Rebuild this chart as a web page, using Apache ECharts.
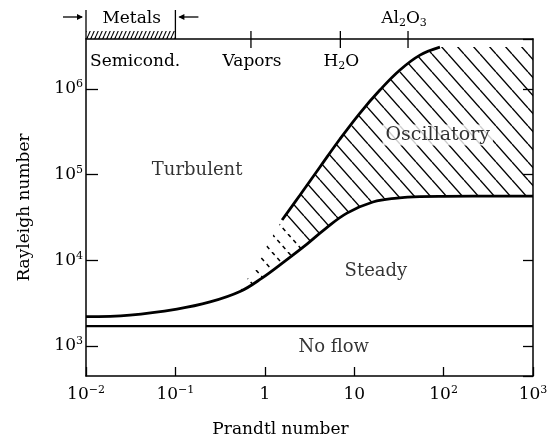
<!DOCTYPE html>
<html><head><meta charset="utf-8">
<script src="https://cdn.jsdelivr.net/npm/echarts@6/dist/echarts.min.js"></script>
<style>html,body{margin:0;padding:0;background:#fff}#c{width:553px;height:448px}</style>
</head><body><div id="c"></div>
<script>
// ---------------- data ----------------
const prMin = 0.01, prMax = 1000;
const raMin = 447, raMax = 3.84e6;
const noFlowRa = 1708;
// lower boundary (turbulent/steady, then steady/oscillatory)
const lowerPr = [0.01, 0.031, 0.104, 0.244, 0.528, 0.93, 1.68, 2.96, 4.71, 8.3, 16.2, 30.1, 54.4, 100, 1000];
const lowerRa = [2200, 2300, 2700, 3270, 4330, 6220, 9820, 15500, 23200, 35600, 48000, 53400, 55600, 56000, 56300];
// upper boundary of oscillatory region (solid)
const upperPr = [1.56, 2.48, 4.14, 6.93, 11.6, 19.4, 32.5, 54.4, 91];
const upperRa = [29600, 57900, 123000, 261000, 525000, 973000, 1.67e6, 2.49e6, 3.09e6];
const oscTopRa = 3.09e6;
// uncertain (dashed) extension
const dashPr = [0.528, 0.96, 1.56];
const dashRa = [4330, 12500, 29600];
const splitPr = 2.78, splitRa = 14800;
// materials along the top edge
const markerNames = ['Vapors', 'H2O', 'Al2O3'];
const markerPr = [0.7, 7, 40];
const metalsRange = [0.01, 0.1];
const metalsName = 'Metals';
const semicondName = 'Semicond.';
// region labels
const regionNames = ['Turbulent', 'Oscillatory', 'Steady', 'No flow'];
const regionPr = [0.175, 86, 17.5, 5.9];
const regionRa = [113000, 290000, 7500, 973];
const xName = 'Prandtl number', yName = 'Rayleigh number';

// ---------------- build ----------------
const FONT = 'DejaVu Serif';
const FS = 17;
const zip = (a, b) => a.map((v, i) => [v, b[i]]);
const lowerData = zip(lowerPr, lowerRa);
const upperData = zip(upperPr, upperRa);
const dashData = zip(dashPr, dashRa);

const solidPoly = [...upperData, [prMax, oscTopRa],
  ...lowerData.filter(d => d[0] > splitPr).reverse(), [splitPr, splitRa]];
const dashPoly = [...dashData, [splitPr, splitRa],
  ...lowerData.filter(d => d[0] > dashPr[0] && d[0] < splitPr).reverse()];

function makeHatch(w, h, dir, dash, lw) {
  const c = document.createElement('canvas'); c.width = w; c.height = h;
  const g = c.getContext('2d');
  g.strokeStyle = '#000'; g.lineWidth = lw;
  if (dash) g.setLineDash(dash);
  for (const off of [-w, 0, w]) {
    g.beginPath();
    if (dir === 'back') { g.moveTo(off, 0); g.lineTo(off + w, h); }
    else { g.moveTo(off, h); g.lineTo(off + w, 0); }
    g.stroke();
  }
  return c;
}
const hatchSolid = makeHatch(16, 18, 'back', null, 1.4);
const hatchDash = makeHatch(16, 18, 'back', [4, 4.03], 1.5);
const hatchMetal = makeHatch(4, 9, 'fwd', null, 1.1);

const rich = {
  sup: { fontSize: 11, fontFamily: FONT, verticalAlign: 'top', color: '#000' },
  sub: { fontSize: 11, fontFamily: FONT, verticalAlign: 'bottom', color: '#000' }
};
function powLabel(v) {
  const e = Math.log10(v), r = Math.round(e);
  if (Math.abs(e - r) > 1e-6) return '';
  if (r === 0) return '1';
  if (r === 1) return '10';
  return '10{sup|' + (r < 0 ? '\u2212' + (-r) : r) + '}';
}
const chem = s => s.replace(/(\d)/g, '{sub|$1}');

function polySeries(points, pattern) {
  return {
    type: 'custom', data: [[1, 1000]], silent: true, z: 1, clip: false,
    renderItem(params, api) {
      return { type: 'polygon', shape: { points: points.map(p => api.coord(p)) },
        style: { fill: { image: pattern, repeat: 'repeat' }, stroke: null } };
    }
  };
}
function txt(x, y, text, align) {
  return { type: 'text', x, y, style: { text, fill: '#000', font: FS + 'px "' + FONT + '"',
    align: align || 'center', verticalAlign: 'middle', lineHeight: 20, rich } };
}

const annot = {
  type: 'custom', data: [[1, 1000]], silent: true, z: 6, clip: false,
  renderItem(params, api) {
    const ch = [];
    const yTop = api.coord([1, raMax])[1];
    const L = { stroke: '#000', lineWidth: 1.3 };
    markerPr.forEach((pr, i) => {
      const x = api.coord([pr, raMax])[0];
      ch.push({ type: 'line', shape: { x1: x, y1: yTop - 8, x2: x, y2: yTop + 9 }, style: L });
      if (i < 2) ch.push(txt(x + 1, yTop + 23, chem(markerNames[i])));
      else ch.push(txt(x - 4, yTop - 20, chem(markerNames[i])));
    });
    const x1 = api.coord([metalsRange[0], raMax])[0];
    const x2 = api.coord([metalsRange[1], raMax])[0];
    const xm = api.coord([Math.sqrt(metalsRange[0] * metalsRange[1]), raMax])[0];
    ch.push({ type: 'polygon', shape: { points: [[x1, yTop - 8], [x2, yTop - 8], [x2, yTop], [x1, yTop]] },
      style: { fill: { image: hatchMetal, repeat: 'repeat' }, stroke: null } });
    ch.push({ type: 'line', shape: { x1: x1, y1: yTop, x2: x1, y2: yTop - 29 }, style: L });
    ch.push({ type: 'line', shape: { x1: x2, y1: yTop, x2: x2, y2: yTop - 29 }, style: L });
    const ya = yTop - 22;
    ch.push({ type: 'line', shape: { x1: x1 - 23, y1: ya, x2: x1 - 4, y2: ya }, style: L });
    ch.push({ type: 'polygon', shape: { points: [[x1 - 3, ya], [x1 - 9, ya - 3], [x1 - 9, ya + 3]] }, style: { fill: '#000' } });
    ch.push({ type: 'line', shape: { x1: x2 + 4, y1: ya, x2: x2 + 23, y2: ya }, style: L });
    ch.push({ type: 'polygon', shape: { points: [[x2 + 3, ya], [x2 + 9, ya - 3], [x2 + 9, ya + 3]] }, style: { fill: '#000' } });
    ch.push(txt(xm + 1, yTop - 20, metalsName));
    ch.push(txt(x1 + 4, yTop + 23, semicondName, 'left'));
    return { type: 'group', children: ch };
  }
};

const axisLine = { show: true, lineStyle: { color: '#000', width: 1.5 } };
const option = {
  animation: false,
  backgroundColor: '#fff',
  grid: { left: 86, right: 20, top: 39, bottom: 72, containLabel: false, outerBoundsMode: 'none' },
  xAxis: [
    { type: 'log', logBase: 10, min: prMin, max: prMax, position: 'bottom',
      axisLine, splitLine: { show: false }, minorTick: { show: false },
      axisTick: { show: true, inside: true, length: 9, lineStyle: { color: '#000', width: 1.3 } },
      axisLabel: { formatter: powLabel, rich, color: '#000', fontFamily: FONT, fontSize: FS, lineHeight: 20, margin: 9 },
      name: xName, nameLocation: 'middle', nameGap: 45,
      nameTextStyle: { fontFamily: FONT, fontSize: FS, color: '#000', padding: [0, 58, 0, 0] } },
    { type: 'log', logBase: 10, min: prMin, max: prMax, position: 'top',
      axisLine, axisTick: { show: false }, axisLabel: { show: false }, splitLine: { show: false } }
  ],
  yAxis: [
    { type: 'log', logBase: 10, min: raMin, max: raMax, position: 'left',
      axisLine, splitLine: { show: false }, minorTick: { show: false },
      axisTick: { show: true, inside: true, length: 12, lineStyle: { color: '#000', width: 1.3 } },
      axisLabel: { formatter: powLabel, rich, color: '#000', fontFamily: FONT, fontSize: FS, lineHeight: 20, margin: 3,
        showMinLabel: false, showMaxLabel: false },
      name: yName, nameLocation: 'middle', nameGap: 53,
      nameTextStyle: { fontFamily: FONT, fontSize: FS, color: '#000' } },
    { type: 'log', logBase: 10, min: raMin, max: raMax, position: 'right',
      axisLine, splitLine: { show: false },
      axisTick: { show: true, inside: true, length: 10, lineStyle: { color: '#000', width: 1.3 } },
      axisLabel: { show: false } }
  ],
  series: [
    polySeries(solidPoly, hatchSolid),
    polySeries(dashPoly, hatchDash),
    { type: 'line', data: lowerData, smooth: 0.4, symbol: 'none', z: 3,
      lineStyle: { color: '#000', width: 2.8 } },
    { type: 'line', data: upperData, smooth: 0.4, symbol: 'none', z: 3,
      lineStyle: { color: '#000', width: 2.8 } },
    { type: 'line', data: [[prMin, noFlowRa], [prMax, noFlowRa]], symbol: 'none', z: 3,
      lineStyle: { color: '#000', width: 2.4 } },
    { type: 'scatter', symbolSize: 1, itemStyle: { color: 'rgba(0,0,0,0)' }, z: 5,
      data: regionNames.map((n, i) => ({ name: n, value: [regionPr[i], regionRa[i]],
        label: n === 'Oscillatory' ? { backgroundColor: '#fff', padding: [1, 3], fontSize: 19 } : {} })),
      label: { show: true, position: 'inside', formatter: '{b}', color: '#000', fontFamily: FONT, fontSize: 18 } },
    annot
  ]
};
const chart = echarts.init(document.getElementById('c'));
chart.setOption(option);
</script>
</body></html>
